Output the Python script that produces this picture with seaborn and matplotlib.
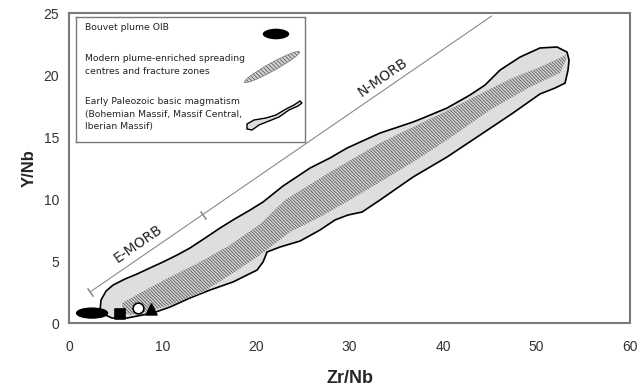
import matplotlib
matplotlib.use("Agg")
import matplotlib.pyplot as plt
from matplotlib.patches import Ellipse, Polygon
import pandas as pd
import seaborn as sns

# Early Paleozoic basic magmatism field (Zr/Nb, Y/Nb outline)
paleo_zr = [3.32, 3.42, 3.96, 4.71, 5.99, 7.27, 8.66, 10.05, 11.55, 12.94, 14.55, 16.15,
            17.54, 19.36, 20.75, 22.89, 25.78, 27.91, 29.73, 33.26, 36.79, 37.86, 40.43,
            42.89, 44.49, 46.10, 48.24, 50.37, 52.19, 53.26, 53.48, 53.37, 53.05, 51.98,
            50.37, 47.49, 43.96, 40.43, 36.79, 33.26, 31.34, 29.84, 28.45, 26.84, 24.71,
            22.57, 21.18, 20.75, 20.11, 18.61, 17.54, 15.08, 12.94, 10.80, 8.98, 6.20,
            4.60, 3.64]
paleo_y = [1.05, 1.85, 2.58, 3.06, 3.55, 3.95, 4.44, 4.92, 5.48, 6.05, 6.85, 7.66,
           8.31, 9.11, 9.76, 11.05, 12.50, 13.31, 14.11, 15.32, 16.21, 16.53, 17.34,
           18.39, 19.19, 20.40, 21.45, 22.18, 22.26, 21.85, 21.21, 20.40, 19.35, 18.95,
           18.47, 16.94, 15.16, 13.39, 11.77, 9.92, 8.95, 8.71, 8.31, 7.50, 6.61,
           6.13, 5.73, 4.92, 4.27, 3.71, 3.31, 2.66, 2.02, 1.29, 0.81, 0.40,
           0.40, 0.73]

# Modern plume-enriched spreading centres and fracture zones field
modern_zr = [5.78, 5.67, 7.59, 10.80, 14.01, 17.22, 20.43, 23.10, 27.91, 33.26, 36.79,
             39.68, 43.96, 47.17, 50.37, 53.16, 53.16, 52.51, 49.30, 45.03, 40.43,
             36.79, 33.26, 30.05, 26.84, 23.64, 20.43, 17.22, 14.33, 10.80, 8.34, 6.52]
modern_y = [0.89, 1.61, 2.42, 3.71, 4.92, 6.29, 7.98, 9.92, 12.18, 14.52, 15.81,
            16.85, 18.47, 19.68, 20.65, 21.61, 21.21, 20.16, 19.03, 17.18, 14.76,
            12.98, 11.37, 9.92, 8.55, 7.34, 5.48, 3.87, 2.50, 1.45, 0.89, 0.65]

# Bouvet plume OIB field (centre and extent)
bouvet_zr, bouvet_y = 2.46, 0.80
bouvet_dzr, bouvet_dy = 3.3, 0.8

# Early Paleozoic sample groups
sample_zr = [5.45, 7.40, 8.80]
sample_y = [0.73, 1.20, 1.15]
sample_marker = ["s", "o", "^"]
sample_face = ["black", "white", "black"]

# MORB reference trend
morb_zr = [2.25, 45.2]
morb_y = [2.50, 24.76]
morb_split_zr, morb_split_y = 14.3, 8.72

x_ticks = [0, 10, 20, 30, 40, 50, 60]
y_ticks = [0, 5, 10, 15, 20, 25]

legend_labels = [
    "Bouvet plume OIB",
    "Modern plume-enriched spreading\ncentres and fracture zones",
    "Early Paleozoic basic magmatism\n(Bohemian Massif, Massif Central,\nIberian Massif)",
]

sns.set_theme(style="white")
plt.rcParams["font.family"] = ["Liberation Sans", "DejaVu Sans"]
plt.rcParams["hatch.linewidth"] = 0.6

fig = plt.figure(figsize=(6.38, 3.91), dpi=100)
ax = fig.add_axes([0.1082, 0.1739, 0.8793, 0.7928])

GRID = "#7a7a7a"
FIELD = "#dedede"
HATCH_FACE = "#d4d4d4"
HATCH_LINE = "#5a5a5a"

# fields
ax.add_patch(Polygon(list(zip(paleo_zr, paleo_y)), closed=True, facecolor=FIELD,
                     edgecolor="black", linewidth=1.2, zorder=2))
ax.add_patch(Polygon(list(zip(modern_zr, modern_y)), closed=True, facecolor=HATCH_FACE,
                     edgecolor=HATCH_LINE, linewidth=0, hatch="\\" * 10, zorder=3))
ax.add_patch(Ellipse((bouvet_zr, bouvet_y), bouvet_dzr, bouvet_dy, facecolor="black",
                     edgecolor="black", zorder=4))

# MORB trend line with end / split marks
morb = pd.DataFrame({"zr": morb_zr, "y": morb_y})
sns.lineplot(data=morb, x="zr", y="y", sort=False, color="#8a8a8a", linewidth=0.8,
             ax=ax, zorder=1)
ax.plot([morb_zr[0], morb_split_zr], [morb_y[0], morb_split_y],
        linestyle="none", marker=(2, 2, 35), markersize=7, markeredgewidth=0.8,
        color="#8a8a8a", zorder=1)
ax.text(7.38, 6.37, "E-MORB", rotation=35, ha="center", va="center", fontsize=10,
        family="DejaVu Sans", color="#222222")
ax.text(33.6, 19.8, "N-MORB", rotation=35, ha="center", va="center", fontsize=10,
        family="DejaVu Sans", color="#222222")

# sample symbols
samples = pd.DataFrame({"zr": sample_zr, "y": sample_y, "m": sample_marker,
                        "fc": sample_face})
for _, r in samples.iterrows():
    sns.scatterplot(x=[r.zr], y=[r.y], marker=r.m, s=60, color=r.fc,
                    edgecolor="black", linewidth=1.2, ax=ax, zorder=5)

ax.set_xlim(0, 60)
ax.set_ylim(0, 25)
ax.set_xticks(x_ticks)
ax.set_yticks(y_ticks)
ax.tick_params(direction="in", length=3, color=GRID, labelsize=10,
               labelcolor="#333333")
ax.tick_params(axis="x", pad=12)
ax.tick_params(axis="y", pad=7)
for s in ax.spines.values():
    s.set_color(GRID)
    s.set_linewidth(1.5)
ax.set_xlabel("Zr/Nb", fontsize=13, fontweight="bold", labelpad=12)
ax.set_ylabel("Y/Nb", fontsize=12, fontweight="bold", labelpad=5)

# legend panel (coordinates in pixels of the panel)
lg = fig.add_axes([76 / 638, 1 - 142 / 391, 229 / 638, 125 / 391])
lg.set_xlim(0, 229)
lg.set_ylim(125, 0)
lg.set_xticks([])
lg.set_yticks([])
for s in lg.spines.values():
    s.set_color(GRID)
    s.set_linewidth(1.0)
lg.patch.set_facecolor("white")
text_y = [10, 48, 97]
for ty, lab in zip(text_y, legend_labels):
    lg.text(9, ty, lab, ha="left", va="center", fontsize=6.7, family="DejaVu Sans",
            color="#222222", linespacing=1.5)
lg.add_patch(Ellipse((200, 17), 28, 12, facecolor="black"))
lg.add_patch(Ellipse((196, 50), 63, 8, angle=-29, facecolor=HATCH_FACE,
                     edgecolor=HATCH_LINE, linewidth=0, hatch="\\" * 8))
lg.add_patch(Ellipse((196, 50), 63, 8, angle=-29, facecolor="none",
                     edgecolor="#777777", linewidth=0.5))
blob = [(171, 107), (178, 103), (190, 101), (200, 98), (210, 92), (218, 88), (224, 84),
        (226, 86), (222, 89), (213, 93), (203, 100), (193, 104), (183, 108), (176, 113),
        (171, 112)]
lg.add_patch(Polygon(blob, closed=True, facecolor=FIELD, edgecolor="black",
                     linewidth=1.0))

fig.savefig("out.png", dpi=100)
